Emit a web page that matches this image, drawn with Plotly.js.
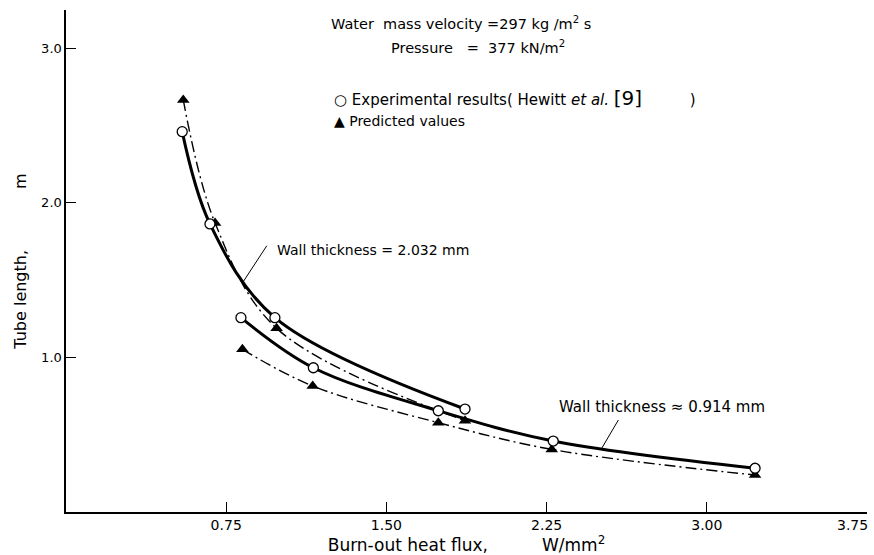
<!DOCTYPE html>
<html><head><meta charset="utf-8">
<script src="https://cdn.plot.ly/plotly-3.0.1.min.js"></script>
<style>html,body{margin:0;padding:0;background:#fff}</style>
</head><body><div id="chart" style="width:874px;height:555px"></div>
<script>
// Wall thickness = 2.032 mm
const upperExpX  = [0.544, 0.674, 0.978, 1.868];
const upperExpY  = [2.46, 1.863, 1.257, 0.666];
const upperPredX = [0.549, 0.698, 0.986, 1.868];
const upperPredY = [2.665, 1.869, 1.188, 0.591];
// Wall thickness = 0.914 mm
const lowerExpX  = [0.819, 1.158, 1.743, 2.281, 3.226];
const lowerExpY  = [1.257, 0.933, 0.655, 0.459, 0.283];
const lowerPredX = [0.826, 1.155, 1.743, 2.274, 3.226];
const lowerPredY = [1.052, 0.815, 0.578, 0.405, 0.239];

const xTickVals = [0.75, 1.5, 2.25, 3.0, 3.75];
const xTickText = ["0.75", "1.50", "2.25", "3.00", ""];
const xLastTick = "3.75";
const yTickVals = [1, 2, 3];
const yTickText = ["1.0", "2.0", "3.0"];

const FONT = "DejaVu Sans";
const NB = n => '&nbsp;'.repeat(n);
const solid = {color: '#000', width: 3, shape: 'spline'};
const dashdot = {color: '#000', width: 1.4, dash: '11px,4px,2px,4px', shape: 'spline'};
const tri = {symbol: 'triangle-up', size: 11, color: '#000'};
const circ = {symbol: 'circle', size: 10, color: '#fff', line: {color: '#000', width: 1.3}};

const data = [
  {x: upperPredX, y: upperPredY, mode: 'lines', line: dashdot, hoverinfo: 'skip'},
  {x: lowerPredX, y: lowerPredY, mode: 'lines', line: dashdot, hoverinfo: 'skip'},
  {x: upperExpX, y: upperExpY, mode: 'lines', line: solid, hoverinfo: 'skip'},
  {x: lowerExpX, y: lowerExpY, mode: 'lines', line: solid, hoverinfo: 'skip'},
  {x: upperPredX, y: upperPredY, mode: 'markers', marker: tri, name: 'Predicted values'},
  {x: lowerPredX, y: lowerPredY, mode: 'markers', marker: tri, name: 'Predicted values'},
  {x: upperExpX, y: upperExpY, mode: 'markers', marker: circ, name: 'Experimental results'},
  {x: lowerExpX, y: lowerExpY, mode: 'markers', marker: circ, name: 'Experimental results'}
];

const txt = (x, y, text, anchor, size) => ({x: x, y: y, xref: 'x', yref: 'y', text: text, showarrow: false,
  xanchor: anchor || 'left', yanchor: 'middle', font: {family: FONT, size: size || 15, color: '#000'}});

const lastTickLabel = {x: xTickVals[xTickVals.length - 1], y: 0, xref: 'x', yref: 'paper', text: xLastTick,
  showarrow: false, xanchor: 'right', yanchor: 'top', xshift: 3, yshift: -3,
  font: {family: FONT, size: 14, color: '#000'}};

const layout = {
  width: 874, height: 555,
  margin: {l: 66, r: 7, t: 10, b: 43},
  paper_bgcolor: '#fff', plot_bgcolor: '#fff',
  showlegend: false,
  font: {family: FONT, size: 14, color: '#000'},
  xaxis: {
    range: [0, 3.75], showgrid: false, zeroline: false,
    showline: true, linecolor: '#000', linewidth: 1.6,
    ticks: 'inside', ticklen: 10, tickwidth: 1, tickcolor: '#000',
    tickvals: xTickVals, ticktext: xTickText,
    tickfont: {family: FONT, size: 14, color: '#000'},
    title: {text: 'Burn-out heat flux,' + NB(10) + 'W/mm<sup>2</sup>', font: {family: FONT, size: 17, color: '#000'}, standoff: 4}
  },
  yaxis: {
    range: [0, 3.247], showgrid: false, zeroline: false,
    showline: true, linecolor: '#000', linewidth: 1.6,
    ticks: 'inside', ticklen: 10, tickwidth: 1, tickcolor: '#000',
    tickvals: yTickVals, ticktext: yTickText,
    tickfont: {family: FONT, size: 13, color: '#000'},
    title: {text: 'Tube length,' + NB(12) + 'm', font: {family: FONT, size: 16, color: '#000'}, standoff: 10}
  },
  annotations: [
    txt(1.851, 3.163, 'Water' + NB(2) + 'mass velocity =297 kg /m<sup>2</sup> s', 'center', 14.5),
    txt(1.927, 3.010, 'Pressure' + NB(3) + '=' + NB(2) + '377 kN/m<sup>2</sup>', 'center', 14.5),
    txt(1.244, 2.678, '○ Experimental results( Hewitt <i>et al.</i> <span style="font-size:20px">[9]</span>' + NB(10) + ')'),
    txt(1.244, 2.529, '▲ Predicted values', 'left', 14),
    txt(0.978, 1.695, 'Wall thickness = 2.032 mm', 'left', 14),
    txt(2.297, 0.681, 'Wall thickness ≈ 0.914 mm', 'left', 15),
    lastTickLabel
  ],
  shapes: [
    {type: 'line', xref: 'x', yref: 'y', x0: 0.94, y0: 1.722, x1: 0.83, y1: 1.49, line: {color: '#000', width: 1}},
    {type: 'line', xref: 'x', yref: 'y', x0: 2.586, y0: 0.595, x1: 2.508, y1: 0.412, line: {color: '#000', width: 1}}
  ]
};

Plotly.newPlot('chart', data, layout, {staticPlot: true, displayModeBar: false});
</script>
</body></html>
